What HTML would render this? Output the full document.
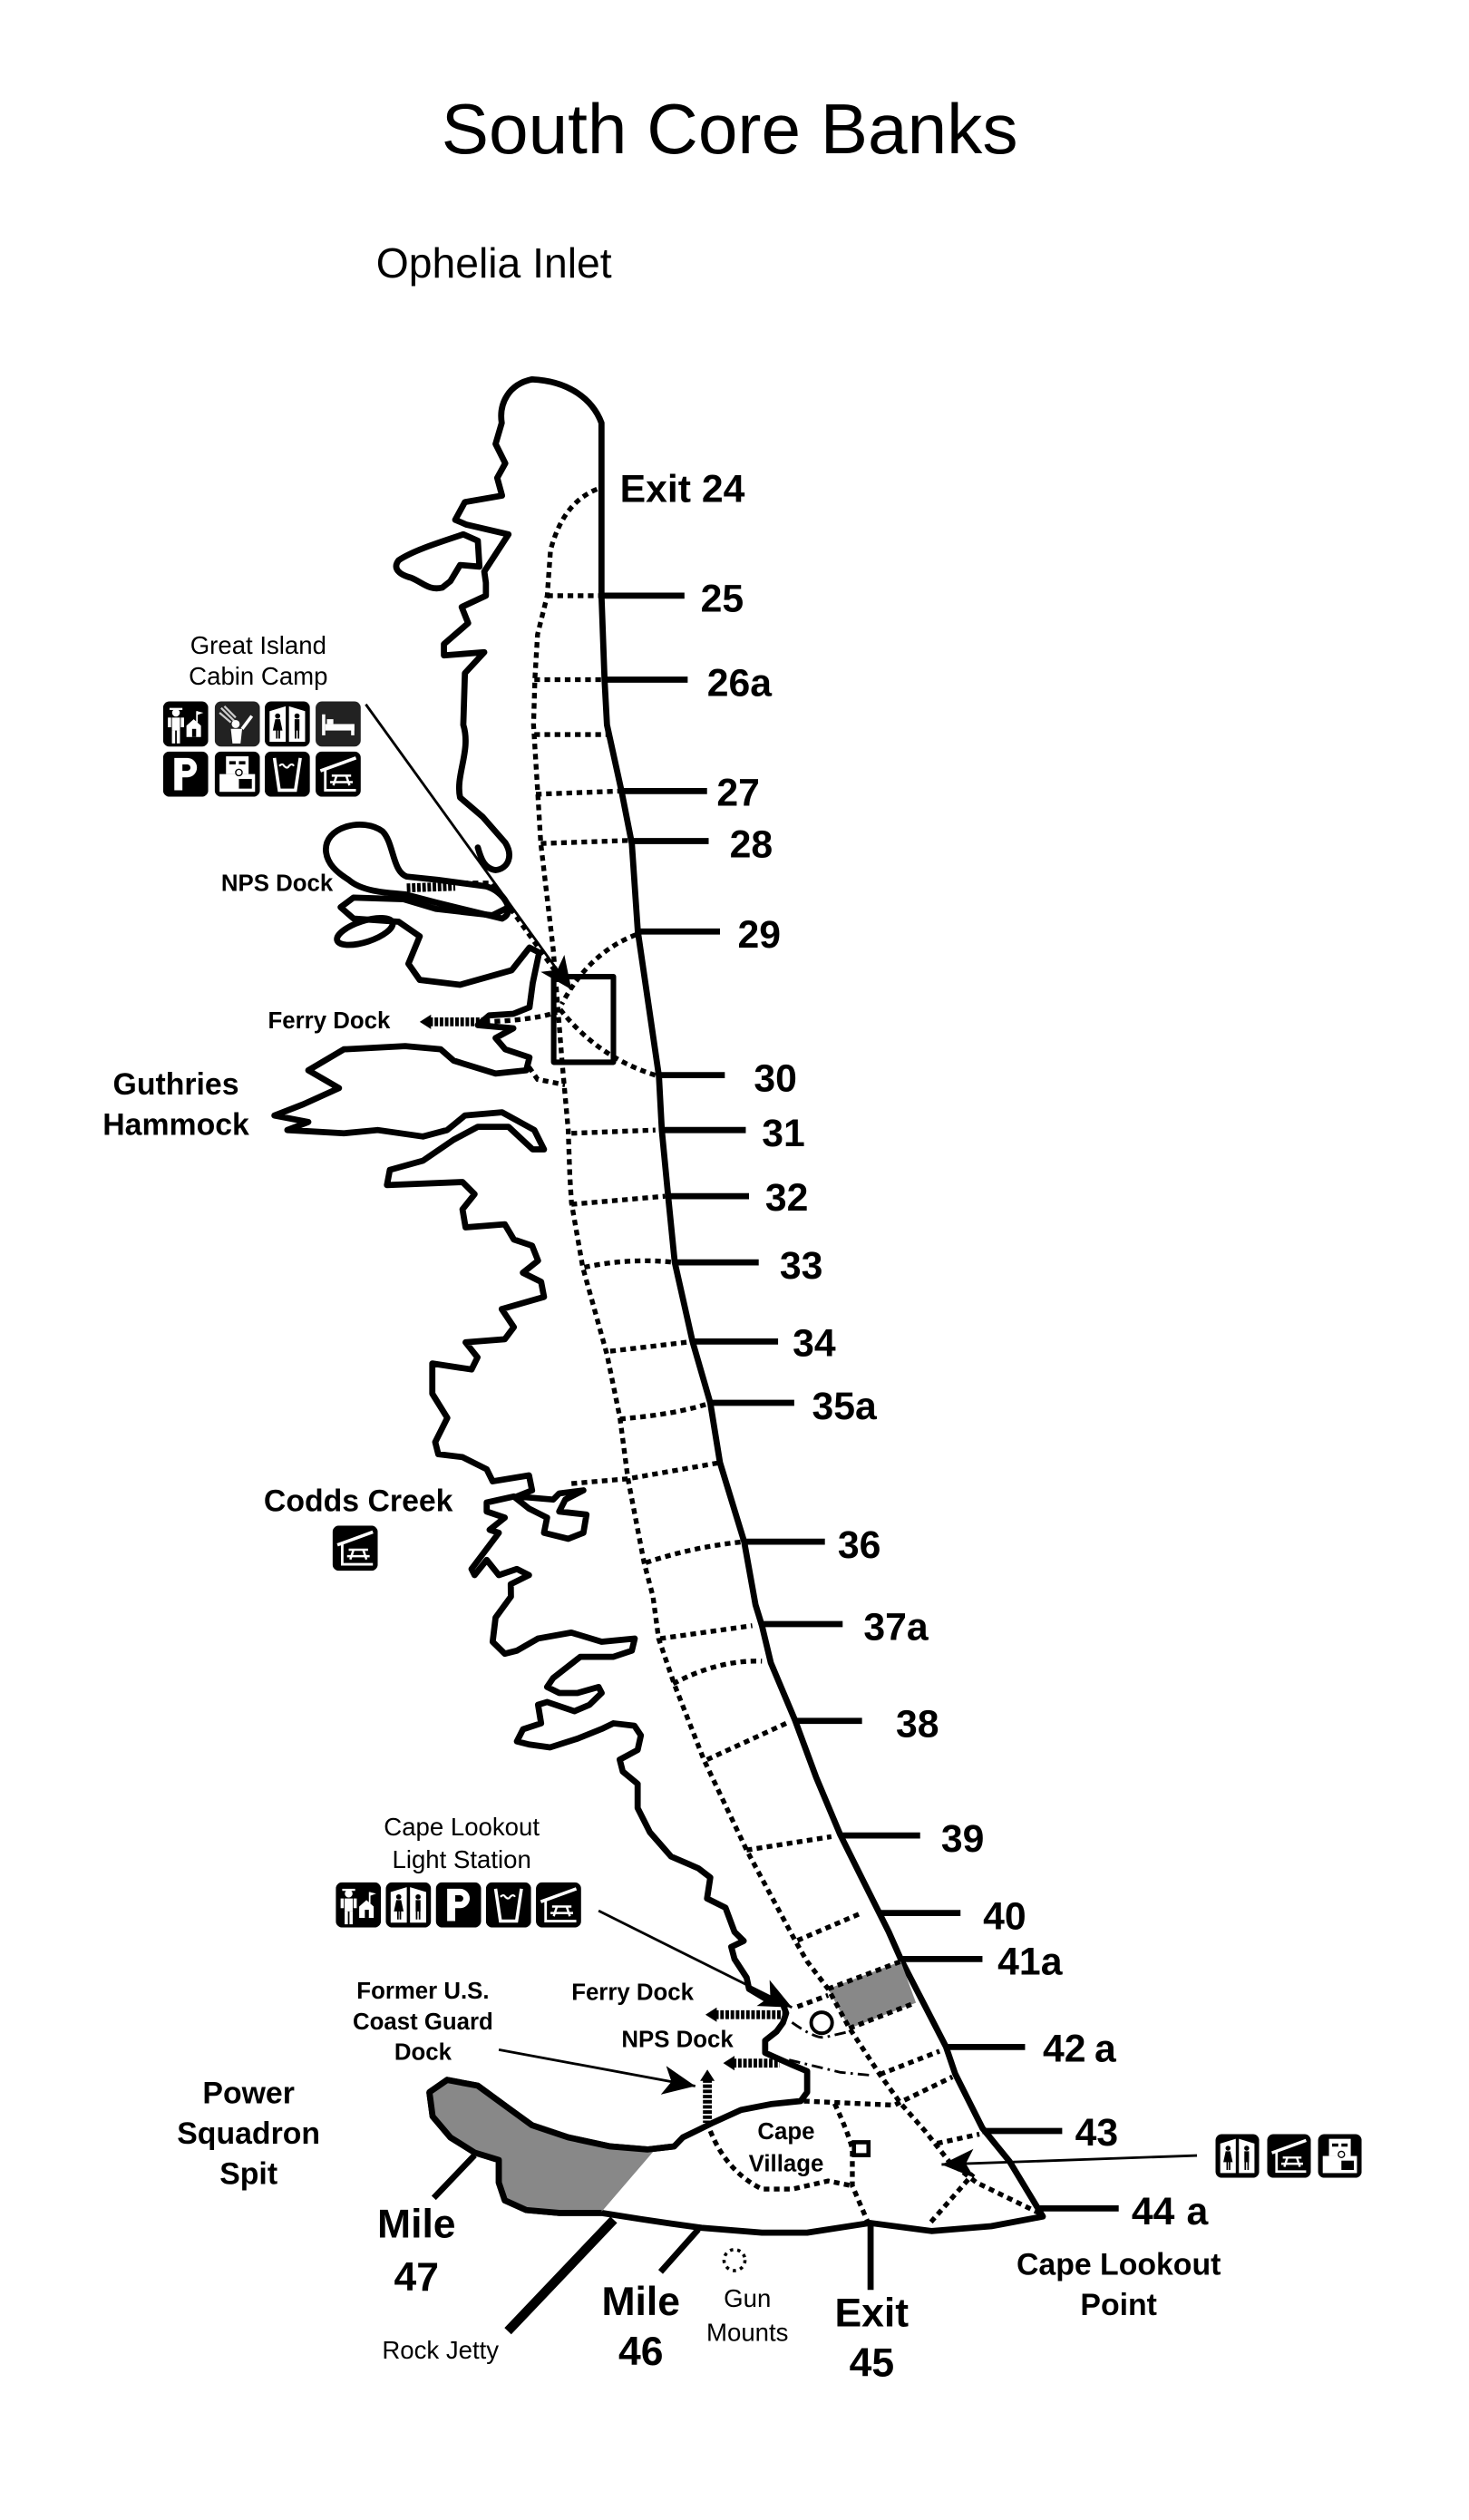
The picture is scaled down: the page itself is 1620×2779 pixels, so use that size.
<!DOCTYPE html>
<html><head><meta charset="utf-8"><style>
html,body{margin:0;padding:0;background:#fff}
svg{display:block}
text{font-family:"Liberation Sans",Arial,sans-serif;fill:#000}
.b{font-weight:bold}
</style></head><body>
<svg width="1620" height="2779" viewBox="0 0 910 1561" preserveAspectRatio="none" xmlns="http://www.w3.org/2000/svg">
<defs>
<marker id="ah" markerUnits="userSpaceOnUse" markerWidth="22" markerHeight="18" refX="20" refY="9" orient="auto"><path d="M0,0 L20,9 L0,18 L5,9 Z" fill="#000"/></marker>
<symbol id="i-ranger" viewBox="0 0 28 28"><rect width="28" height="28" rx="4" fill="#000"/><circle cx="8" cy="7" r="2.4" fill="#fff"/><rect x="4" y="4" width="8" height="1.3" fill="#fff"/><rect x="5.5" y="10" width="5" height="8" fill="#fff"/><rect x="3" y="10" width="2" height="6" fill="#fff"/><rect x="11" y="10" width="2" height="6" fill="#fff"/><rect x="5.5" y="18" width="2" height="8" fill="#fff"/><rect x="8.5" y="18" width="2" height="8" fill="#fff"/><path d="M14.5,22 L14.5,15 L19,11 L23.5,15 L23.5,22 Z" fill="#fff"/><rect x="18" y="17" width="2.5" height="5" fill="#000"/><line x1="21" y1="13" x2="21" y2="6" stroke="#fff" stroke-width="1"/><path d="M21,6 L25,7 L21,8.5Z" fill="#fff"/></symbol>
<symbol id="i-shower" viewBox="0 0 28 28"><rect width="28" height="28" rx="4" fill="#222"/><path d="M4,4 L12,12 M6,3 L13,10 M3,7 L10,13" stroke="#ccc" stroke-width="1.3"/><circle cx="13" cy="14" r="2.5" fill="#fff"/><path d="M10,17 L17,17 L16,26 L11,26 Z" fill="#fff"/><path d="M17,17 L23,9" stroke="#fff" stroke-width="2"/></symbol>
<symbol id="i-rest" viewBox="0 0 28 28"><rect width="28" height="28" rx="4" fill="#000"/><path d="M3,6 L13,3 L13,25 L3,25 Z M15,3 L25,6 L25,25 L15,25 Z" fill="#fff"/><circle cx="8" cy="9" r="1.6" fill="#000"/><path d="M6.5,11 L9.5,11 L11,18 L5,18 Z M7,18 h1 v5 h-1z M8.5,18 h1 v5 h-1z" fill="#000"/><circle cx="20" cy="9" r="1.6" fill="#000"/><path d="M18.5,11 h3 v7 h-3z M18.6,18 h1 v5 h-1z M20.4,18 h1 v5 h-1z" fill="#000"/></symbol>
<symbol id="i-bed" viewBox="0 0 28 28"><rect width="28" height="28" rx="4" fill="#222"/><rect x="4" y="8" width="2" height="13" fill="#fff"/><rect x="6" y="14" width="18" height="4" fill="#fff"/><rect x="22" y="14" width="2" height="7" fill="#fff"/><rect x="7" y="11" width="4" height="3" fill="#fff"/></symbol>
<symbol id="i-p" viewBox="0 0 28 28"><rect width="28" height="28" rx="4" fill="#000"/><path d="M7,4 h8 a6,6 0 0 1 0,12 h-3 v8 h-5 z M12,8 v4 h3 a2,2 0 0 0 0,-4 z" fill="#fff" fill-rule="evenodd"/></symbol>
<symbol id="i-rv" viewBox="0 0 28 28"><rect width="28" height="28" rx="4" fill="#000"/><rect x="7" y="3" width="14" height="11" fill="#fff"/><rect x="9" y="6" width="4" height="2" fill="#000"/><rect x="15" y="6" width="4" height="2" fill="#000"/><rect x="3" y="14" width="22" height="11" fill="#fff"/><rect x="15" y="17" width="8" height="6" fill="#000"/><circle cx="15" cy="13" r="2" fill="#fff" stroke="#000" stroke-width="0.8"/></symbol>
<symbol id="i-water" viewBox="0 0 28 28"><rect width="28" height="28" rx="4" fill="#000"/><path d="M6,4 L9,24 L19,24 L22,4" fill="none" stroke="#fff" stroke-width="2"/><path d="M9,9 q2,-2 3,0 q2,2 3,0 q2,-2 3,0" fill="none" stroke="#fff" stroke-width="1.2"/></symbol>
<symbol id="i-picnic" viewBox="0 0 28 28"><rect width="28" height="28" rx="4" fill="#000"/><path d="M3,12 L25,4" stroke="#fff" stroke-width="2"/><path d="M6,11 L6,24 L25,24" fill="none" stroke="#fff" stroke-width="1.6"/><path d="M10,15 h12 M9,19 h14 M13,15 l-2,6 M19,15 l2,6" stroke="#fff" stroke-width="1.4"/></symbol>
</defs>

<text x="452" y="95" font-size="44" text-anchor="middle">South Core Banks</text>
<text x="233" y="172" font-size="26">Ophelia Inlet</text>

<g fill="none" stroke="#000" stroke-width="3.8" stroke-linejoin="round" stroke-linecap="round">
<path d="M329.6,235 C352,236 367,247 372.6,262 L372.6,314 L372.6,369 L374.5,421 L376,449 L385,490 L391.4,522.5 L395.1,576.8 L408.2,666.7 L410,700.4 L414,742 L418,782 L429,831 L440,869 L446,906 L461,955 L468,994 L472,1007 L477.5,1030 L492.5,1065.6 L505.6,1101 L520.6,1136.7 L533.7,1163 L550.5,1196.6 L558,1213.5 L586,1267.8 L591.7,1284.6 L608.6,1318.3 L625.4,1338.9 L646,1373 L614,1379 L577,1382 L539,1377 L500,1383 L472,1383 L434.5,1380 L415.7,1377.4 L397,1374.6 L372.7,1370.8 L346.4,1370.8 L326,1369 L312.7,1363 L309,1352 L309,1338 L294,1333.4 L279,1324 L268,1311 L266,1296 L277,1288.4 L296,1292 L316.5,1307 L329.6,1316.5 L352,1324 L378,1329.6 L401,1331.5 L417.6,1329.6 L423,1324 L434.5,1318.4 L442,1314.7 L459,1307 L477.5,1303.4 L496,1301.5 L500,1296 L500,1283 L490.6,1279 L474,1271.6 L474,1264 L481,1258.5 L485,1253 L487,1247 L485,1241.6 L474,1238 L464,1232 L462.5,1225 L455,1213.5 L453,1206 L460.7,1202.3 L455,1196.7 L449.4,1181.7 L438,1176 L440,1163 L432.6,1157.3 L415.7,1150 L402.6,1135 L395,1120 L395,1105 L385.8,1097.4 L383.9,1090 L395,1084 L397,1075 L393,1069 L380,1067.5 L372.7,1071 L357.7,1077 L340.8,1082.4 L327.7,1080.6 L320.2,1078.7 L324,1071.2 L335.2,1067.5 L333.3,1056 L338.9,1054.3 L355.8,1060 L365.2,1056 L372.7,1048.7 L370.8,1045 L357.7,1048.7 L346.4,1048.7 L338.9,1045 L342.7,1039.4 L359.5,1026.3 L380,1026.3 L391.4,1022.5 L393.2,1015 L372.7,1017 L353.9,1011.3 L333.3,1015 L320.2,1022.5 L312.7,1024.4 L305.2,1017 L307,1002 L316.5,989 L316.4,981.3 L327.7,975.7 L320.2,971.9 L309,975.7 L301.5,966.3 L294,975.7 L292.1,971.9 L309,949.5 L303.3,947.6 L312.7,940.1 L301.5,936.3 L301.5,930.7 L318.3,927 L327.7,934.5 L338.9,940.1 L337,949.5 L352,953.2 L361.4,949.5 L363.3,938.2 L346.4,936.3 L350.2,928.9 L361.4,923.2 L346.4,925.1 L342.7,928.9 L320.2,927 L329.6,923.2 L327.7,913.9 L305.2,917.6 L301.5,910.1 L286.5,902.6 L271.5,900.8 L269.6,893.3 L277.1,878.3 L267.8,863.3 L267.8,844.6 L292.1,848.3 L295.8,840.8 L288.4,831.5 L312.7,829.6 L318.3,822.1 L310.8,810.9 L337,803.4 L335.2,794 L323.9,788.4 L333.3,780.9 L329.6,771.6 L318.3,767.8 L312.7,758.4 L288.4,760.3 L286.5,749.1 L294,739.7 L286.5,732.2 L239.7,734.1 L241.5,724.7 L262,719 L281,706 L296,698 L315,698 L330,712 L337,712 L331,700 L311,689 L288,691 L277,700 L262,704 L234,700 L213,702 L178,700 L191,695 L170,691 L188,684 L210,674 L191,663 L213,650 L251,648 L273,650 L281,657 L307,665 L326,663 L328,655 L313,650 L307,643 L318,637 L296,635 L303,629 L318,628 L328,624 L330,609 L334,590 L328,587 L317,601 L285,610 L260,607 L253,597 L260,580 L247,571 L219,569 L211,562 L219,556 L250,557 L270,563 L305,567 L313,563"/>
<path d="M329.6,235 C315,238 309,250 310.8,262 L307,275 L313,287 L308,296 L311,307 L288,311 L282,322 L289,325 L315,331 L300,354 L301,361 L301,369 L286,376 L290,386 L275,399 L275,406 L300,404 L288,417 L287,449 C292,465 282,480 285,494 L299,506 L313,522 C318,530 315,538 307,539 C300,538 298,532 296,525"/>
<path d="M296,335 L287,331 C272,336 256,341 247,347 C243,352 247,356 255,358 C262,361 266,366 274,364 L279,360 L285,350 L297,351 L296,335 Z"/>
<path d="M202,528 C200,512 225,506 237,515 C244,522 243,540 252,543 L271,545 L301,549 C312,552 320,565 311,569 L270,559 L251,554 C238,553 224,552 216,545 C208,540 203,535 202,528 Z"/>
<ellipse cx="226" cy="577" rx="18" ry="6.5" transform="rotate(-18 226 577)"/>
<rect x="343" y="605" width="37" height="53" stroke-width="3.4"/>
</g>

<path d="M266,1296 L277,1288.4 L296,1292 L316.5,1307 L329.6,1316.5 L352,1324 L378,1329.6 L404.5,1333 L372.7,1370 L346.4,1370.8 L326,1369 L312.7,1363 L309,1352 L309,1338 L294,1333.4 L279,1324 L268,1311 Z" fill="#888"/>
<path d="M513,1232 L558,1215 L567.4,1240.6 L526.2,1256.5 Z" fill="#888"/>
<path d="M266,1296 L277,1288.4 L296,1292 L316.5,1307 L329.6,1316.5 L352,1324 L378,1329.6 L401,1331.5 L417.6,1329.6 M372.7,1370.8 L346.4,1370.8 L326,1369 L312.7,1363 L309,1352 L309,1338 L294,1333.4 L279,1324 L268,1311 L266,1296" fill="none" stroke="#000" stroke-width="3.8" stroke-linejoin="round"/>

<g fill="none" stroke="#000" stroke-width="3" stroke-dasharray="3.5 2.8">
<path d="M369.8,303 C355,309 346,322 341,341 L339,369 L333,393 L331.4,419.5 L330.5,449 L333.3,494 L335,522.5 L342.7,588 L348.3,659 L352,700 L353,728.5 L354,745 L361,785 L376,839 L384,878 L389,916 L399,968 L404.5,989 L408,1015 L417.6,1043 L436,1090 L462.5,1146 L492.5,1202 L500,1215 L513,1232 L526,1256 L545,1285 L558,1303 L573,1320 L588,1339 L605,1352 L644,1371"/>
<path d="M339,369 L372,369"/>
<path d="M331,421 L374,421"/>
<path d="M331,455 L378,455"/>
<path d="M332,492 L385,490"/>
<path d="M335,522.5 L390,520.6"/>
<path d="M394,579 Q365,590 348,622"/>
<path d="M406,666 Q370,655 346,624"/>
<path d="M286.5,547 L305,547 L345,603"/>
<path d="M300,633 Q330,632 345,627"/>
<path d="M327.7,661 L333,668.6 L350,672"/>
<path d="M354,702 L406,700"/>
<path d="M354,746 L412,741"/>
<path d="M362,785 Q390,779 418,782"/>
<path d="M378,837 L429,831"/>
<path d="M384,879 Q420,876 440,869"/>
<path d="M354,919 L389,916 L446,906"/>
<path d="M400,968 Q430,958 461,955"/>
<path d="M409,1015 L466,1007"/>
<path d="M417,1043 Q445,1028 472,1029"/>
<path d="M438,1090 L487,1067.5"/>
<path d="M462.5,1146 L515,1137.7"/>
<path d="M494,1202 L533.7,1185"/>
<path d="M513,1232 L558,1215"/>
<path d="M526,1256.5 L567,1240.6"/>
<path d="M494,1243 L513,1236"/>
<path d="M545,1285 L582,1270.6"/>
<path d="M498,1301.5 L554,1304 L590,1286.5"/>
<path d="M580.5,1327.7 L606.7,1322"/>
<path d="M576.7,1376.4 L603,1346.4"/>
<path d="M440,1320 Q450,1345 472,1356 L491,1356 L513,1351 L528,1354"/>
<path d="M517,1303 Q525,1320 528,1331 L528,1354 L537.4,1376"/>
</g>
<g fill="none" stroke="#000" stroke-width="1.6" stroke-dasharray="7 3 1.5 3">
<path d="M490.6,1252.8 Q505,1263 511,1262 L528,1258"/>
<path d="M488.8,1276 L520.6,1283.7 L539.3,1285.5"/>
</g>
<circle cx="509" cy="1253" r="6.5" fill="#fff" stroke="#000" stroke-width="2.2"/>
<rect x="529" y="1327" width="9" height="8" fill="#fff" stroke="#000" stroke-width="2.6"/>
<circle cx="455" cy="1400" r="6.5" fill="none" stroke="#000" stroke-width="2" stroke-dasharray="2 2.6"/>

<g stroke="#000" stroke-width="3.8">
<line x1="372" y1="369" x2="424" y2="369"/>
<line x1="374" y1="421" x2="426" y2="421"/>
<line x1="385" y1="490" x2="438" y2="490"/>
<line x1="391" y1="521" x2="439" y2="521"/>
<line x1="395" y1="577" x2="446" y2="577"/>
<line x1="408" y1="666" x2="449" y2="666"/>
<line x1="410" y1="700" x2="462" y2="700"/>
<line x1="414" y1="741" x2="464" y2="741"/>
<line x1="418" y1="782" x2="470" y2="782"/>
<line x1="429" y1="831" x2="482" y2="831"/>
<line x1="440" y1="869" x2="492" y2="869"/>
<line x1="461" y1="955" x2="511" y2="955"/>
<line x1="472" y1="1006" x2="522" y2="1006"/>
<line x1="492" y1="1066" x2="534" y2="1066"/>
<line x1="520" y1="1137" x2="570" y2="1137"/>
<line x1="545" y1="1185" x2="595" y2="1185"/>
<line x1="558" y1="1213.5" x2="608.6" y2="1213.5"/>
<line x1="586" y1="1268" x2="635" y2="1268"/>
<line x1="608.6" y1="1320" x2="658" y2="1320"/>
<line x1="644" y1="1368" x2="693" y2="1368"/>
<line x1="539.3" y1="1377" x2="539.3" y2="1418.5"/>
<line x1="432.6" y1="1381" x2="409.2" y2="1407.3"/>
<line x1="294" y1="1335" x2="268.7" y2="1361.5"/>
<line x1="380.2" y1="1375" x2="314.6" y2="1444" stroke-width="5.8"/>
</g>

<g stroke="#000" stroke-width="5.5" stroke-dasharray="2.2 1">
<line x1="252" y1="550" x2="282" y2="549"/>
<line x1="266" y1="633" x2="300" y2="633"/>
<line x1="443" y1="1248" x2="487" y2="1248"/>
<line x1="454" y1="1278" x2="483" y2="1278"/>
<line x1="438.2" y1="1288" x2="438.2" y2="1315"/>
</g>
<g fill="#000">
<path d="M260,633 L267,628.5 L267,637.5 Z"/>
<path d="M437,1248 L444,1243.5 L444,1252.5 Z"/>
<path d="M448,1278 L455,1273.5 L455,1282.5 Z"/>
<path d="M438.2,1282 L433.7,1289 L442.7,1289 Z"/>
</g>

<g stroke="#000" stroke-width="1.6" fill="none" marker-end="url(#ah)">
<line x1="226.6" y1="436.3" x2="354" y2="613"/>
<line x1="370.8" y1="1183.6" x2="490.6" y2="1243.5"/>
<line x1="309" y1="1269.7" x2="430.7" y2="1292.2"/>
<line x1="741.5" y1="1335.2" x2="583.3" y2="1340.8"/>
</g>

<use href="#i-ranger" x="101" y="434.5" width="28" height="28"/>
<use href="#i-shower" x="133" y="434.5" width="28" height="28"/>
<use href="#i-rest" x="164" y="434.5" width="28" height="28"/>
<use href="#i-bed" x="195.5" y="434.5" width="28" height="28"/>
<use href="#i-p" x="101" y="465.5" width="28" height="28"/>
<use href="#i-rv" x="133" y="465.5" width="28" height="28"/>
<use href="#i-water" x="164" y="465.5" width="28" height="28"/>
<use href="#i-picnic" x="195.5" y="465.5" width="28" height="28"/>
<use href="#i-picnic" x="206" y="945" width="28" height="28"/>
<use href="#i-ranger" x="208" y="1166" width="28" height="28"/>
<use href="#i-rest" x="239" y="1166" width="28" height="28"/>
<use href="#i-p" x="270" y="1166" width="28" height="28"/>
<use href="#i-water" x="301" y="1166" width="28" height="28"/>
<use href="#i-picnic" x="332" y="1166" width="28" height="28"/>
<use href="#i-rest" x="753" y="1322" width="27" height="27"/>
<use href="#i-picnic" x="785" y="1322" width="27" height="27"/>
<use href="#i-rv" x="816.5" y="1322" width="27" height="27"/>

<g font-size="24" font-weight="bold">
<text x="384" y="311">Exit 24</text>
<text x="434" y="379">25</text>
<text x="438" y="431">26a</text>
<text x="444" y="499">27</text>
<text x="452" y="531">28</text>
<text x="457" y="587">29</text>
<text x="467" y="676">30</text>
<text x="472" y="710">31</text>
<text x="474" y="750">32</text>
<text x="483" y="792">33</text>
<text x="491" y="840">34</text>
<text x="503" y="879">35a</text>
<text x="519" y="965">36</text>
<text x="535" y="1016">37a</text>
<text x="555" y="1076">38</text>
<text x="583" y="1147">39</text>
<text x="609" y="1195">40</text>
<text x="618" y="1223">41a</text>
<text x="646" y="1277">42</text><text x="678" y="1277">a</text>
<text x="666" y="1329">43</text>
<text x="701" y="1378">44</text><text x="735" y="1378">a</text>
</g>
<g font-weight="bold" font-size="25" text-anchor="middle">
<text x="540" y="1441">Exit</text><text x="540" y="1472">45</text>
<text x="397" y="1434">Mile</text><text x="397" y="1465">46</text>
<text x="258" y="1386">Mile</text><text x="258" y="1419">47</text>
</g>
<g font-weight="bold" font-size="19" text-anchor="middle">
<text x="693" y="1409">Cape Lookout</text><text x="693" y="1434">Point</text>
<text x="154" y="1303">Power</text><text x="154" y="1328">Squadron</text><text x="154" y="1353">Spit</text>
<text x="109" y="678">Guthries</text><text x="109" y="703">Hammock</text>
<text x="222" y="936">Codds Creek</text>
</g>
<g font-weight="bold" font-size="14.5">
<text x="137" y="552">NPS Dock</text>
<text x="166" y="637">Ferry Dock</text>
<text x="354" y="1239">Ferry Dock</text>
<text x="385" y="1268">NPS Dock</text>
<text x="262" y="1238" text-anchor="middle">Former U.S.</text>
<text x="262" y="1257" text-anchor="middle">Coast Guard</text>
<text x="262" y="1276" text-anchor="middle">Dock</text>
<text x="487" y="1325" text-anchor="middle">Cape</text>
<text x="487" y="1345" text-anchor="middle">Village</text>
</g>
<g font-size="15.5" text-anchor="middle">
<text x="160" y="405">Great Island</text>
<text x="160" y="424">Cabin Camp</text>
<text x="286" y="1137">Cape Lookout</text>
<text x="286" y="1157">Light Station</text>
<text x="463" y="1429">Gun</text>
<text x="463" y="1450">Mounts</text>
<text x="309" y="1461" text-anchor="end">Rock Jetty</text>
</g>
</svg>
</body></html>
